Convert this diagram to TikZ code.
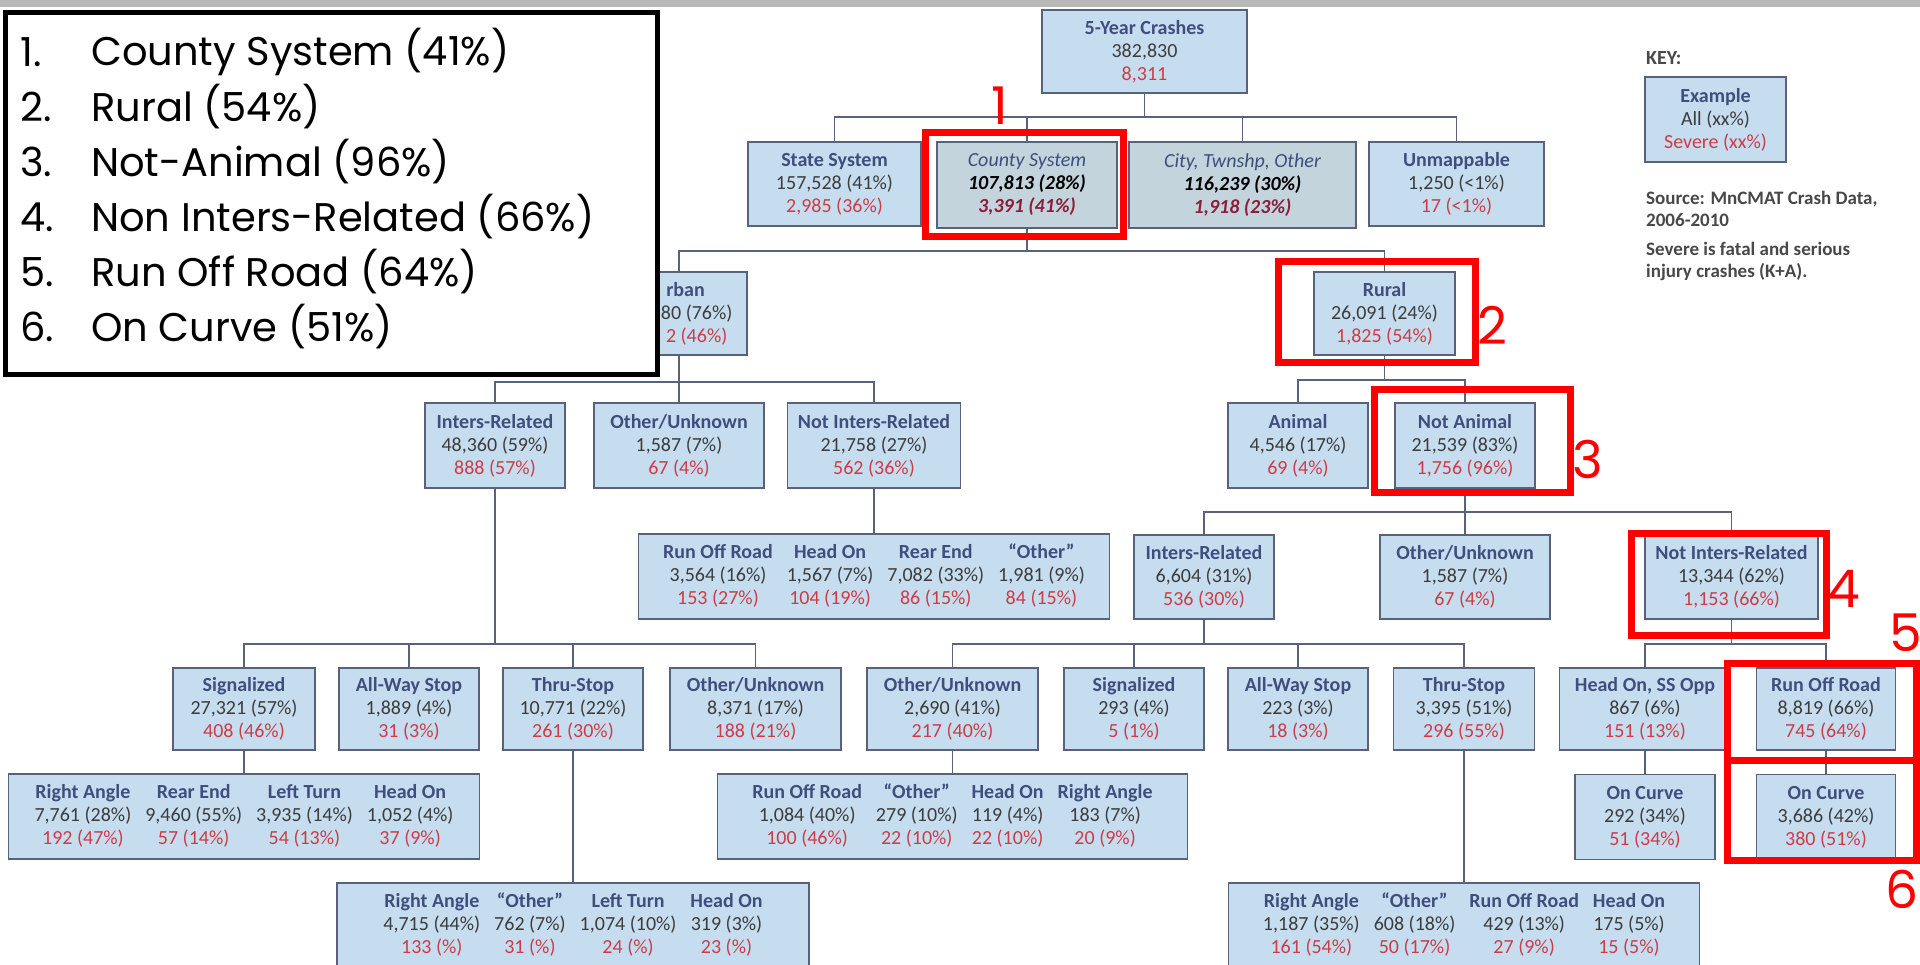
\documentclass[tikz,border=0pt]{standalone}
\usepackage{fontspec}
\setmainfont{Carlito}
\newfontfamily\legendfont{Poppins}

\definecolor{boxfill}{RGB}{198,221,240}
\definecolor{greyfill}{RGB}{196,212,221}
\definecolor{boxline}{RGB}{88,98,122}
\definecolor{titcol}{RGB}{62,78,125}
\definecolor{numcol}{RGB}{60,60,60}
\definecolor{sevcol}{RGB}{205,60,70}
\definecolor{darksev}{RGB}{140,30,60}
\definecolor{keycol}{RGB}{72,72,72}

\newcommand{\tit}[1]{\textbf{\color{titcol}#1}}
\newcommand{\sev}[1]{{\color{sevcol}#1}}
\newcommand{\crs}[3]{\tit{#1}\\#2\\\sev{#3}}
\newcommand{\crsit}[3]{{\color{titcol}\itshape #1}\\\textbf{\itshape #2}\\{\color{darksev}\bfseries\itshape #3}}
\newcommand{\fourway}[1]{{\setlength{\tabcolsep}{7pt}\begin{tabular}{cccc}#1\end{tabular}}}

\begin{document}
\begin{tikzpicture}[
    x=1pt,
    y=-1pt,
    box/.style={draw=boxline, fill=boxfill, line width=1.8pt, minimum width=140pt,
        minimum height=84pt, inner sep=1pt, align=center, text=numcol,
        font=\fontsize{20}{23}\selectfont},
    greybox/.style={box, fill=greyfill, text=black},
    wide/.style={box, minimum width=471pt},
    link/.style={draw=boxline, line width=1.8pt},
    hlbox/.style={draw=red, line width=7pt},
    tag/.style={text=red, inner sep=0pt, font=\legendfont\fontsize{52}{52}\selectfont},
    keytext/.style={text=keycol, align=left, anchor=west, inner sep=0pt,
        font=\fontsize{19}{22}\selectfont\bfseries},
    legend item/.style={anchor=west, inner sep=0pt, font=\legendfont\fontsize{40}{42}\selectfont}
]
    \useasboundingbox (0,0) rectangle (1920,965);
    \clip (0,0) rectangle (1920,965);
    \fill[white] (0,0) rectangle (1920,965);
    \fill[gray!55] (0,0) rectangle (1920,7);

    \coordinate (b1) at (0,117);
    \coordinate (b2) at (0,251);
    \coordinate (b3u) at (0,382);
    \coordinate (b3r) at (0,380);
    \coordinate (b4) at (0,512);
    \coordinate (b5) at (0,644);

    % tree
    \node[box, minimum width=205pt, minimum height=83pt] (root) at (1144.5,51.5) {\crs{5-Year Crashes}{382,830}{8,311}};

    \node[box, minimum width=173pt] (state) at (834.5,184) {\crs{State System}{157,528 (41\%)}{2,985 (36\%)}};
    \node[greybox, minimum width=180pt, minimum height=86pt] (county) at (1027,185) {\crsit{County System}{107,813 (28\%)}{3,391 (41\%)}};
    \node[greybox, minimum width=227pt, minimum height=86pt] (city) at (1242.5,185) {\crsit{City, Twnshp, Other}{116,239 (30\%)}{1,918 (23\%)}};
    \node[box, minimum width=175pt] (unmap) at (1456.5,184) {\crs{Unmappable}{1,250 (<1\%)}{17 (<1\%)}};

    \node[box, minimum width=136pt, minimum height=83pt] (urban) at (679,313.5) {\tit{\phantom{U}rban}\\\phantom{81,6}80 (76\%)\\\sev{\phantom{1,56}2 (46\%)}};
    \node[box, minimum width=141pt, minimum height=83pt] (rural) at (1384.5,313.5) {\crs{Rural}{26,091 (24\%)}{1,825 (54\%)}};

    \node[box, minimum height=85pt] (uinter) at (495,445.5) {\crs{Inters-Related}{48,360 (59\%)}{888 (57\%)}};
    \node[box, minimum width=170pt, minimum height=85pt] (uother) at (679,445.5) {\crs{Other/Unknown}{1,587 (7\%)}{67 (4\%)}};
    \node[box, minimum width=173pt, minimum height=85pt] (unotint) at (874,445.5) {\crs{Not Inters-Related}{21,758 (27\%)}{562 (36\%)}};
    \node[box, minimum height=85pt] (animal) at (1298,445.5) {\crs{Animal}{4,546 (17\%)}{69 (4\%)}};
    \node[box, minimum height=85pt] (notanimal) at (1465,445.5) {\crs{Not Animal}{21,539 (83\%)}{1,756 (96\%)}};

    \node[wide, minimum height=85pt] (uroad) at (874,576.5) {\fourway{
        \tit{Run Off Road} & \tit{Head On} & \tit{Rear End} & \tit{“Other”}\\
        3,564 (16\%) & 1,567 (7\%) & 7,082 (33\%) & 1,981 (9\%)\\
        \sev{153 (27\%)} & \sev{104 (19\%)} & \sev{86 (15\%)} & \sev{84 (15\%)}}};
    \node[box] (rinter) at (1204,577) {\crs{Inters-Related}{6,604 (31\%)}{536 (30\%)}};
    \node[box, minimum width=170pt] (rother) at (1465,577) {\crs{Other/Unknown}{1,587 (7\%)}{67 (4\%)}};
    \node[box, minimum width=173pt] (rnotint) at (1731.5,577) {\crs{Not Inters-Related}{13,344 (62\%)}{1,153 (66\%)}};

    \node[box, minimum width=142pt, minimum height=82pt] (usig) at (244,709) {\crs{Signalized}{27,321 (57\%)}{408 (46\%)}};
    \node[box, minimum height=82pt] (uallway) at (409,709) {\crs{All-Way Stop}{1,889 (4\%)}{31 (3\%)}};
    \node[box, minimum height=82pt] (uthru) at (573,709) {\crs{Thru-Stop}{10,771 (22\%)}{261 (30\%)}};
    \node[box, minimum width=171pt, minimum height=82pt] (uoth2) at (755.5,709) {\crs{Other/Unknown}{8,371 (17\%)}{188 (21\%)}};
    \node[box, minimum width=171pt, minimum height=82pt] (roth2) at (952.5,709) {\crs{Other/Unknown}{2,690 (41\%)}{217 (40\%)}};
    \node[box, minimum height=82pt] (rsig) at (1134,709) {\crs{Signalized}{293 (4\%)}{5 (1\%)}};
    \node[box, minimum height=82pt] (rallway) at (1298,709) {\crs{All-Way Stop}{223 (3\%)}{18 (3\%)}};
    \node[box, minimum width=141pt, minimum height=82pt] (rthru) at (1464,709) {\crs{Thru-Stop}{3,395 (51\%)}{296 (55\%)}};
    \node[box, minimum width=171pt, minimum height=82pt] (headon) at (1645,709) {\crs{Head On, SS Opp}{867 (6\%)}{151 (13\%)}};
    \node[box, minimum width=139pt, minimum height=82pt] (runoff) at (1826,709) {\crs{Run Off Road}{8,819 (66\%)}{745 (64\%)}};

    \node[wide, minimum height=85pt] (usigtype) at (244,816.5) {\fourway{
        \tit{Right Angle} & \tit{Rear End} & \tit{Left Turn} & \tit{Head On}\\
        7,761 (28\%) & 9,460 (55\%) & 3,935 (14\%) & 1,052 (4\%)\\
        \sev{192 (47\%)} & \sev{57 (14\%)} & \sev{54 (13\%)} & \sev{37 (9\%)}}};
    \node[wide, minimum width=470pt, minimum height=85pt] (rothtype) at (952.5,816.5) {\fourway{
        \tit{Run Off Road} & \tit{“Other”} & \tit{Head On} & \tit{Right Angle}\\
        1,084 (40\%) & 279 (10\%) & 119 (4\%) & 183 (7\%)\\
        \sev{100 (46\%)} & \sev{22 (10\%)} & \sev{22 (10\%)} & \sev{20 (9\%)}}};
    \node[box, minimum height=85pt] (curve1) at (1645,817) {\crs{On Curve}{292 (34\%)}{51 (34\%)}};
    \node[box, minimum width=139pt, minimum height=85pt] (curve2) at (1826,817) {\crs{On Curve}{3,686 (42\%)}{380 (51\%)}};

    \node[wide, minimum width=472pt, minimum height=86pt] (uthrutype) at (573,926) {\fourway{
        \tit{Right Angle} & \tit{“Other”} & \tit{Left Turn} & \tit{Head On}\\
        4,715 (44\%) & 762 (7\%) & 1,074 (10\%) & 319 (3\%)\\
        \sev{133 (\%)} & \sev{31 (\%)} & \sev{24 (\%)} & \sev{23 (\%)}}};
    \node[wide, minimum height=86pt] (rthrutype) at (1464,926) {\fourway{
        \tit{Right Angle} & \tit{“Other”} & \tit{Run Off Road} & \tit{Head On}\\
        1,187 (35\%) & 608 (18\%) & 429 (13\%) & 175 (5\%)\\
        \sev{161 (54\%)} & \sev{50 (17\%)} & \sev{27 (9\%)} & \sev{15 (5\%)}}};

    % connectors
    \draw[link] (root) -- (root |- b1);
    \draw[link] (state) |- (b1 -| unmap) -- (unmap);
    \draw[link] (county) -- (county |- b1);
    \draw[link] (city) -- (city |- b1);

    \draw[link] (county) -- (county |- b2);
    \draw[link] (urban) |- (b2 -| rural) -- (rural);

    \draw[link] (urban) -- (uother);
    \draw[link] (uinter) |- (b3u -| unotint) -- (unotint);
    \draw[link] (rural) -- (rural |- b3r);
    \draw[link] (animal) |- (b3r -| notanimal) -- (notanimal);

    \draw[link] (unotint) -- (uroad);
    \draw[link] (notanimal) -- (rother);
    \draw[link] (rinter) |- (b4 -| rnotint) -- (rnotint);

    \draw[link] (uinter) -- (uinter |- b5);
    \draw[link] (usig) |- (b5 -| uoth2) -- (uoth2);
    \draw[link] (uallway) -- (uallway |- b5);
    \draw[link] (uthru) -- (uthru |- b5);

    \draw[link] (rinter) -- (rinter |- b5);
    \draw[link] (roth2) |- (b5 -| rthru) -- (rthru);
    \draw[link] (rsig) -- (rsig |- b5);
    \draw[link] (rallway) -- (rallway |- b5);

    \draw[link] (rnotint) -- (rnotint |- b5);
    \draw[link] (headon) |- (b5 -| runoff) -- (runoff);

    \draw[link] (usig) -- (usigtype);
    \draw[link] (roth2) -- (rothtype);
    \draw[link] (headon) -- (curve1);
    \draw[link] (runoff) -- (curve2);
    \draw[link] (uthru) -- (uthrutype);
    \draw[link] (rthru) -- (rthrutype);

    % key
    \node[keytext, font=\fontsize{20}{22}\selectfont\bfseries] (key) at (1646,58) {KEY:};
    \node[box, minimum width=141pt, minimum height=85pt] (example) at (1715.5,119.5) {\crs{Example}{All (xx\%)}{Severe (xx\%)}};
    \node[keytext] (source) at (1646,209) {Source: MnCMAT Crash Data,\\2006-2010};
    \node[keytext] (severe) at (1646,261.5) {Severe is fatal and serious\\injury crashes (K+A).};

    % highlights
    \draw[hlbox] (925,133) rectangle (1123,237);
    \draw[hlbox] (1278,262) rectangle (1475,363);
    \draw[hlbox] (1374,390) rectangle (1570,492);
    \draw[hlbox] (1631,533) rectangle (1826,635);
    \draw[hlbox] (1727,663) rectangle (1916,760);
    \draw[hlbox] (1727,760) rectangle (1916,860);
    \node[tag] (t1) at (1000,106) {1};
    \node[tag] (t2) at (1492,325) {2};
    \node[tag] (t3) at (1588,459) {3};
    \node[tag] (t4) at (1844,589) {4};
    \node[tag] (t5) at (1906,633) {5};
    \node[tag] (t6) at (1902,889) {6};

    % legend
    \node[draw=black, line width=5pt, fill=white, anchor=north west, inner sep=0pt,
        minimum width=652pt, minimum height=362pt] (legend) at (2.5,10.5) {};
    \foreach \n/\item in {1/County System (41\%), 2/Rural (54\%), 3/Not-Animal (96\%),
        4/Non Inters-Related (66\%), 5/Run Off Road (64\%), 6/On Curve (51\%)} {
        \node[legend item] (num\n) at (20,-3+55*\n) {\n.};
        \node[legend item] (item\n) at (91,-3+55*\n) {\item};
    }
\end{tikzpicture}
\end{document}
